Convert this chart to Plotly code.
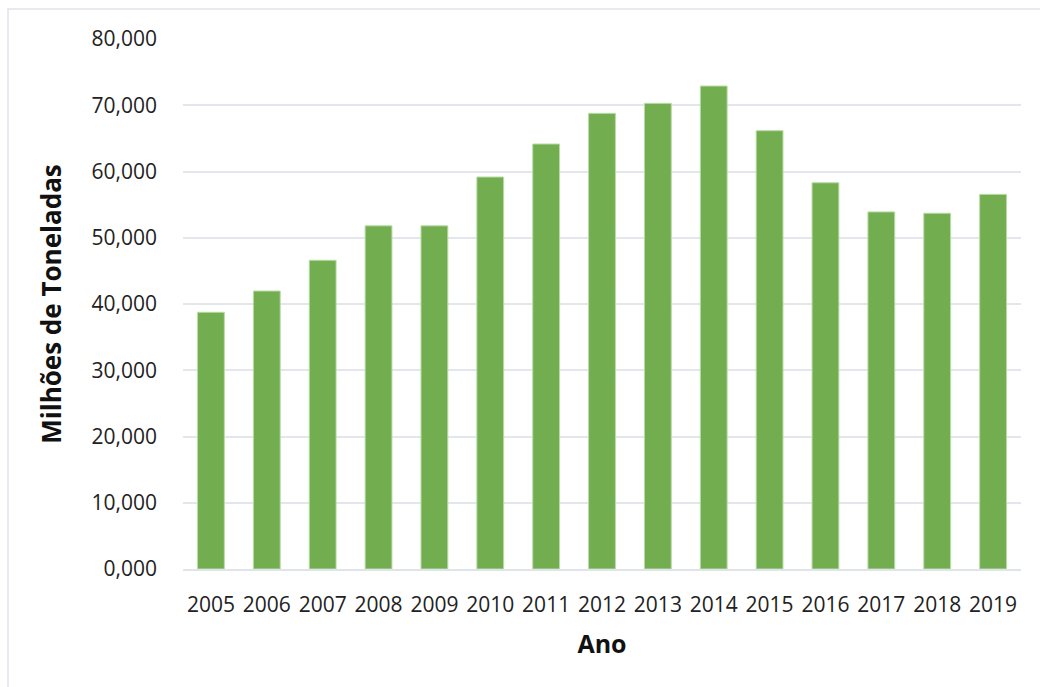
import plotly.graph_objects as go

anos = ["2005", "2006", "2007", "2008", "2009", "2010", "2011", "2012",
        "2013", "2014", "2015", "2016", "2017", "2018", "2019"]
valores = [38.75, 41.96, 46.6, 51.8, 51.8, 59.17, 64.15, 68.78,
           70.29, 72.9, 66.16, 58.3, 53.9, 53.7, 56.55]
y_ticks = [0, 10, 20, 30, 40, 50, 60, 70, 80]
y_tick_labels = ["0,000", "10,000", "20,000", "30,000", "40,000",
                 "50,000", "60,000", "70,000", "80,000"]

FONT = "Open Sans"

fig = go.Figure()
fig.add_trace(go.Bar(
    x=anos, y=valores,
    marker=dict(color="#72ad50", line=dict(color="#b9dba6", width=1)),
    hoverinfo="x+y",
))

fig.update_layout(
    width=1040, height=687,
    margin=dict(l=183, r=19, t=39, b=118),
    paper_bgcolor="white", plot_bgcolor="white",
    bargap=0.52,
    showlegend=False,
    font=dict(family=FONT, color="#222222"),
    xaxis=dict(
        type="category",
        showgrid=False, showline=True, linecolor="#dfe3ea", linewidth=1.5,
        ticks="", ticklabelstandoff=16,
        tickfont=dict(size=21, family=FONT, color="#222222"),
        title=dict(text="<b>Ano</b>", font=dict(size=25, family=FONT, color="#111111"),
                   standoff=19),
    ),
    yaxis=dict(
        range=[0, 80], tickvals=y_ticks, ticktext=y_tick_labels,
        showgrid=True, gridcolor="#e3e6ec", gridwidth=1.5,
        zeroline=False, showline=False, ticks="",
        ticklabelstandoff=25,
        tickfont=dict(size=21, family=FONT, color="#222222"),
        title=dict(text="<b>Milhões de Toneladas</b>",
                   font=dict(size=26, family=FONT, color="#111111"), standoff=22),
    ),
)

# light outer border (top and left visible)
fig.add_shape(type="rect", xref="paper", yref="paper",
              x0=(8 - 183) / 838, x1=(1060 - 183) / 838,
              y0=(569 - 700) / 530, y1=(569 - 9) / 530,
              line=dict(color="#dfe3ea", width=1.5), fillcolor="rgba(0,0,0,0)",
              layer="below")

fig.write_html("out.html")
